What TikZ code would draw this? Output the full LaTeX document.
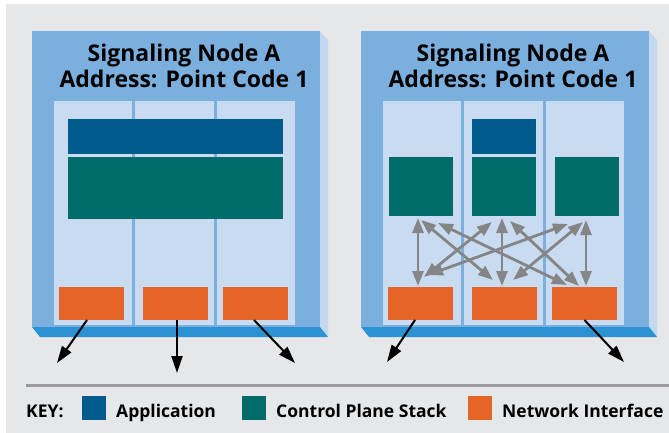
\documentclass[tikz,border=0pt]{standalone}
\usepackage{fontspec}
\setmainfont{Open Sans}
\usepackage{tikz}
\usetikzlibrary{arrows.meta, positioning, calc}

\definecolor{bggray}{HTML}{E6E7E9}
\definecolor{frameblue}{HTML}{7BAFDE}
\definecolor{sideblue}{HTML}{C3D8EF}
\definecolor{baseblue}{HTML}{2B93D1}
\definecolor{panelblue}{HTML}{C8DBF1}
\definecolor{appblue}{HTML}{005B8C}
\definecolor{ctlgreen}{HTML}{006B68}
\definecolor{niorange}{HTML}{E66428}
\definecolor{rulegray}{HTML}{9B9B9D}
\definecolor{meshgray}{HTML}{858585}

\begin{document}
\begin{tikzpicture}[x=1pt, y=-1pt, font=\bfseries,
    blk/.style={inner sep=0pt, outer sep=0pt, anchor=north west},
    meshline/.style={meshgray, line width=2.8pt,
        {Triangle[length=15pt,width=11pt]}-{Triangle[length=15pt,width=11pt]}},
    outarrow/.style={black, line width=2pt, -{Triangle[length=17pt,width=11pt]}},
    keytext/.style={font=\bfseries\fontsize{17.5}{20}\selectfont, inner sep=0pt, anchor=base west}]

\useasboundingbox (0,0) rectangle (669,433);
\fill[bggray] (6,4) rectangle (669,433);

% the two node frames
\foreach \s/\n in {0/A,329/B}{
    \fill[frameblue] (\s+32,31) rectangle (\s+320,327);
    \fill[sideblue] (\s+320,31) -- (\s+328,40) -- (\s+328,337) -- (\s+320,327) -- cycle;
    \fill[baseblue] (\s+32,327) -- (\s+320,327) -- (\s+328,337) -- (\s+40,337) -- cycle;
    \fill[panelblue] (\s+54,101) rectangle (\s+295,325);
    \draw[frameblue, line width=3pt] (\s+133.5,97) -- (\s+133.5,325)
        (\s+215.5,97) -- (\s+215.5,325);
    \node[anchor=base, align=center,
        font=\bfseries\fontsize{23}{26.5}\selectfont] (title\n) at (\s+184,88)
        {Signaling Node A\\Address: Point Code 1};
    \node[blk, fill=niorange, minimum width=65pt, minimum height=33pt] (ni\n1) at (\s+59,287) {};
    \node[blk, fill=niorange, minimum width=65pt, minimum height=33pt] (ni\n2) at (\s+143,287) {};
    \node[blk, fill=niorange, minimum width=65pt, minimum height=33pt] (ni\n3) at (\s+223,287) {};
}

% left node: one stack over all interfaces
\node[blk, fill=appblue, minimum width=215pt, minimum height=35pt] (appA) at (68,119) {};
\node[blk, fill=ctlgreen, minimum width=215pt, minimum height=62pt] (ctlA) at (68,157) {};

% right node: one stack per interface
\node[blk, fill=appblue, minimum width=64pt, minimum height=35pt] (appB) at (472,119) {};
\node[blk, fill=ctlgreen, minimum width=64pt, minimum height=59pt] (ctlB1) at (389,157) {};
\node[blk, fill=ctlgreen, minimum width=64pt, minimum height=59pt] (ctlB2) at (472,157) {};
\node[blk, fill=ctlgreen, minimum width=64pt, minimum height=59pt] (ctlB3) at (555,157) {};

% Arrows
\foreach \i/\j/\ax/\ay/\bx/\by in {1/1/-3/2/-2.5/-1, 1/2/0/4/-11.5/-7, 1/3/17/7/-17.5/-2,
        2/1/-12/6/3.5/-10, 2/2/-2/2/-2.5/-1, 2/3/6/5/-5.5/-1,
        3/1/-19/8/7.5/-12, 3/2/-4/6/8.5/-7, 3/3/-1/4/1.5/-1}
    \draw[meshline] ($(ctlB\i.south)+(\ax,\ay)$) -- ($(niB\j.north)+(\bx,\by)$);

\coordinate (dropA1) at (57,363);
\coordinate (dropA2) at (177,373);
\coordinate (dropA3) at (295,363);
\coordinate (dropB1) at (387,362);
\coordinate (dropB3) at (624,362);
\draw[outarrow] ([xshift=-4.5pt]niA1.south) -- (dropA1);
\draw[outarrow] ([xshift=1.5pt]niA2.south) -- (dropA2);
\draw[outarrow] ([xshift=-1.5pt]niA3.south) -- (dropA3);
\draw[outarrow] ([xshift=-5.5pt]niB1.south) -- (dropB1);
\draw[outarrow] (niB3.south) -- (dropB3);

% key
\draw[rulegray, line width=3pt] (26,385) -- (669,385);
\node[keytext] (keyhead) at (26,417) {KEY:};
\node[blk, fill=appblue, minimum size=24pt] (keyApp) at (82,396) {};
\node[keytext] (keyAppText) at ([xshift=10pt, yshift=-9pt]keyApp.east) {Application};
\node[blk, fill=ctlgreen, minimum size=24pt] (keyCtl) at (242,396) {};
\node[keytext] (keyCtlText) at ([xshift=10pt, yshift=-9pt]keyCtl.east) {Control Plane Stack};
\node[blk, fill=niorange, minimum size=24pt] (keyNi) at (468,396) {};
\node[keytext] (keyNiText) at ([xshift=10pt, yshift=-9pt]keyNi.east) {Network Interface};
\end{tikzpicture}
\end{document}
